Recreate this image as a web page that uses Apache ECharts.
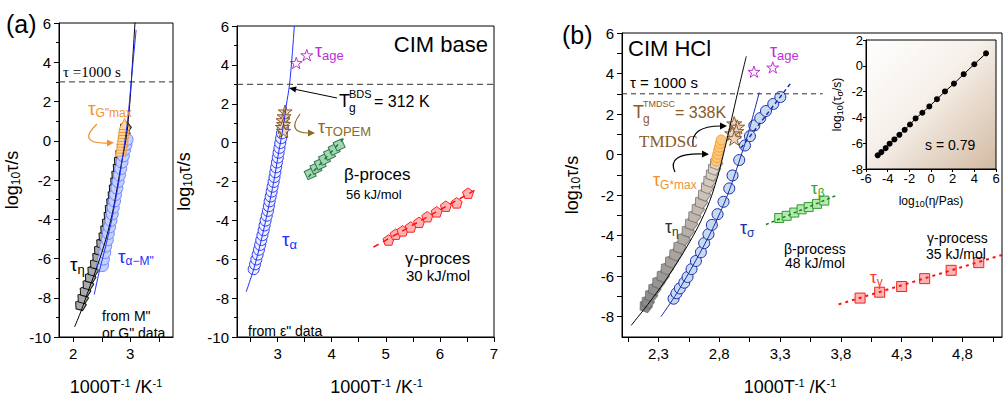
<!DOCTYPE html>
<html><head><meta charset="utf-8">
<script src="https://cdn.jsdelivr.net/npm/echarts@6.0.0/dist/echarts.min.js"></script>
<style>html,body{margin:0;padding:0;background:#fff}#c{width:1004px;height:403px}</style>
</head><body><div id="c"></div>
<script>
// ---------- DATA ----------
// Panel (a) left: from M'' or G'' data
const p1EtaX = [2.13,2.17,2.21,2.26,2.30,2.345,2.39,2.43,2.46,2.50,2.54,2.57,2.60,2.63,2.65,2.675,2.70,2.72,2.745,2.765,2.79,2.81,2.835,2.86,2.88,2.90,2.92];
const p1EtaY = [-8.35,-8.0,-7.65,-7.3,-6.95,-6.6,-6.25,-5.9,-5.55,-5.2,-4.85,-4.5,-4.15,-3.8,-3.45,-3.1,-2.75,-2.4,-2.05,-1.7,-1.35,-1.0,-0.65,-0.3,0.05,0.4,0.7];
const p1AlphaX = [2.512,2.529,2.552,2.569,2.598,2.615,2.638,2.661,2.684,2.701,2.724,2.741,2.764,2.787,2.810,2.833,2.856,2.879,2.902,2.925,2.943];
const p1AlphaY = [-6.36,-6.03,-5.70,-5.37,-5.05,-4.72,-4.39,-4.06,-3.73,-3.40,-3.07,-2.74,-2.41,-2.08,-1.75,-1.42,-1.09,-0.77,-0.44,-0.19,0.06];
const p1GmaxX = [2.83,2.84,2.85,2.86,2.865,2.87,2.88,2.885,2.89,2.90];
const p1GmaxY = [-0.5,-0.35,-0.2,-0.05,0.1,0.25,0.4,0.55,0.7,0.85];
const p1EtaFitX = [2.023,2.138,2.282,2.425,2.569,2.684,2.77,2.839,2.914,2.954,3.0,3.04,3.086];
const p1EtaFitY = [-9.49,-8.67,-7.51,-6.36,-5.05,-3.73,-2.41,-1.26,-0.11,0.72,2.2,4.01,6.15];
const p1AlphaFitX = [2.368,2.454,2.569,2.684,2.799,2.885,2.96,3.017,3.103];
const p1AlphaFitY = [-7.84,-6.69,-5.37,-3.89,-2.08,-0.43,1.21,3.02,5.65];

// Panel (a) right: CIM base, from eps'' data
const p2AlphaX = [2.558,2.583,2.607,2.632,2.656,2.678,2.699,2.72,2.742,2.76,2.779,2.80,2.822,2.838,2.853,2.872,2.890,2.908,2.927,2.943,2.958,2.973,2.988,3.004,3.019,3.035,3.050,3.066,3.081,3.099];
const p2AlphaY = [-6.51,-6.26,-6.01,-5.76,-5.51,-5.26,-5.01,-4.76,-4.51,-4.26,-4.01,-3.76,-3.51,-3.27,-3.02,-2.77,-2.52,-2.27,-2.02,-1.77,-1.52,-1.27,-1.02,-0.77,-0.52,-0.27,-0.02,0.23,0.48,0.73];
const p2AlphaFitX = [2.42,2.56,2.70,2.82,2.93,3.02,3.10,3.16,3.22,3.27,3.31];
const p2AlphaFitY = [-7.67,-6.5,-5.0,-3.5,-2.0,-0.5,0.75,1.9,2.97,4.5,6.0];
const p2TopemX = [3.14,3.12,3.10,3.11,3.09,3.11];
const p2TopemY = [1.6,1.35,1.15,0.95,0.8,0.6];
const p2AgeX = [3.345,3.54];
const p2AgeY = [4.1,4.5];
const p2BetaX = [3.603,3.708,3.788,3.867,3.96,4.046,4.138];
const p2BetaY = [-1.60,-1.32,-1.10,-0.85,-0.60,-0.35,-0.12];
const p2BetaFitX = [3.57,4.25];
const p2BetaFitY = [-1.77,0.31];
const p2GammaX = [5.05,5.184,5.31,5.46,5.614,5.767,5.94,6.11,6.31,6.52];
const p2GammaY = [-5.01,-4.71,-4.54,-4.34,-4.10,-3.81,-3.56,-3.27,-3.10,-2.60];
const p2GammaFitX = [4.77,6.71];
const p2GammaFitY = [-5.38,-2.35];

// Panel (b): CIM HCl
const p3EtaX = [2.197,2.213,2.24,2.267,2.30,2.336,2.37,2.405,2.44,2.473,2.508,2.542,2.569,2.596,2.624,2.651,2.676,2.701,2.72,2.74,2.758,2.775];
const p3EtaY = [-7.45,-7.24,-6.92,-6.60,-6.28,-5.96,-5.60,-5.25,-4.89,-4.53,-4.13,-3.74,-3.38,-3.02,-2.66,-2.31,-1.95,-1.59,-1.27,-0.95,-0.67,-0.40];
const p3EtaFitX = [2.075,2.213,2.349,2.487,2.624,2.72,2.789,2.843,2.898,2.953,3.022];
const p3EtaFitY = [-8.43,-7.39,-6.28,-5.01,-3.58,-2.31,-1.03,0.24,1.67,3.11,4.85];
const p3SigmaX = [2.424,2.448,2.476,2.512,2.539,2.572,2.608,2.649,2.676,2.711,2.739,2.786,2.835,2.882,2.909,2.964,3.011,3.052,3.088,3.137,3.184,3.244,3.302];
const p3SigmaY = [-7.11,-6.84,-6.60,-6.32,-6.04,-5.65,-5.25,-4.82,-4.37,-3.93,-3.47,-2.94,-2.33,-1.67,-1.03,-0.27,0.45,0.91,1.44,1.80,2.15,2.50,2.84];
const p3SigmaFitX = [2.32,2.45,2.6,2.75,2.868,2.96,3.04,3.129];
const p3SigmaFitY = [-8.0,-6.85,-5.3,-3.6,-1.99,-0.4,1.1,3.07];
const p3SigmaFit2X = [2.978,3.395];
const p3SigmaFit2Y = [0.32,3.58];
const p3GmaxX = [2.775,2.781,2.788,2.795,2.802,2.809,2.816];
const p3GmaxY = [-0.32,-0.15,0.02,0.2,0.37,0.55,0.72];
const p3TmdscX = [2.923,2.948,2.94,2.906,2.923];
const p3TmdscY = [1.53,1.37,1.15,1.04,0.80];
const p3AgeX = [3.085,3.24];
const p3AgeY = [4.09,4.30];
const p3BetaX = [3.293,3.354,3.417,3.477,3.535,3.604,3.664];
const p3BetaY = [-3.13,-3.02,-2.86,-2.70,-2.59,-2.43,-2.27];
const p3BetaFitX = [3.184,3.773];
const p3BetaFitY = [-3.45,-1.99];
const p3GammaX = [3.958,4.119,4.30,4.489,4.707,4.934];
const p3GammaY = [-7.08,-6.79,-6.51,-6.12,-5.71,-5.33];
const p3GammaFitX = [3.781,5.137];
const p3GammaFitY = [-7.39,-4.93];

// Inset: log10(tau_sigma) vs log10(eta)
const insetX = [-4.92,-4.58,-4.18,-3.82,-3.38,-2.92,-2.43,-1.94,-1.42,-0.80,-0.15,0.55,1.29,2.12,3.02,4.0,5.08];
const insetY = [-6.94,-6.69,-6.38,-6.04,-5.71,-5.35,-4.96,-4.55,-4.08,-3.64,-3.15,-2.59,-1.99,-1.38,-0.65,0.12,0.97];

const tauRef = 3; // tau = 1000 s
// Tick values
const p1XTicks = [2,2.5,3,3.5];
const p1XLabels = [2,3];
const p2XTicks = [2.5,3,3.5,4,4.5,5,5.5,6,6.5,7];
const p2XLabels = [3,4,5,6,7];
const p3XTicks = [2.05,2.3,2.55,2.8,3.05,3.3,3.55,3.8,4.05,4.3,4.55,4.8,5.05];
const p3XLabels = [2.3,2.8,3.3,3.8,4.3,4.8];
const p3YTicks = [-8,-7,-6,-5,-4,-3,-2,-1,0,1,2,3,4,5,6];
const p3YLabels = [-8,-6,-4,-2,0,2,4,6];
const insetXLabels = [-6,-4,-2,0,2,4,6];
const insetYLabels = [-8,-6,-4,-2,0,2];

// ---------- CHART ----------
const SANS = 'Liberation Sans, Arial, sans-serif';
const SERIF = 'Liberation Serif, Times New Roman, serif';
const zip = (xs, ys) => xs.map((x, i) => [x, ys[i]]);
const PENT = 'path://M50,0 L97.55,34.55 L79.39,90.45 L20.61,90.45 L2.45,34.55 Z';
const STAR = 'path://M50,0 L61.8,35.1 L98.6,35.1 L68.9,56.8 L80.2,91.9 L50,70.2 L19.8,91.9 L31.1,56.8 L1.4,35.1 L38.2,35.1 Z';

const chart = echarts.init(document.getElementById('c'), null, {renderer: 'svg'});

const richSS = {
  p: {fontSize: 11, fontFamily: SANS, lineHeight: 13, padding: [0, 0, 9, 0], color: '#000'},
  s: {fontSize: 12, fontFamily: SANS, lineHeight: 14, padding: [8, 0, 0, 0], color: '#000'}
};
const xName = '1000T{p|-1} /K{p|-1}';
const yName = 'log{s|10}τ/s';

function xAx(grid, min, max, ticks, labels, pad, fmt) {
  return {
    gridIndex: grid, type: 'value', min: min, max: max,
    axisLine: {show: true, onZero: false, lineStyle: {color: '#000', width: 1}},
    axisTick: {show: true, customValues: ticks, length: 5, lineStyle: {color: '#000'}},
    axisLabel: {customValues: labels, color: '#000', fontFamily: SANS, fontSize: 15, margin: 9, formatter: fmt,
      showMinLabel: true, showMaxLabel: true},
    splitLine: {show: false},
    name: xName, nameLocation: 'middle', nameGap: 39,
    nameTextStyle: {color: '#000', fontFamily: SANS, fontSize: 18, lineHeight: 22, padding: pad, rich: richSS}
  };
}
function yAx(grid, min, max, gap, extra) {
  const a = {
    gridIndex: grid, type: 'value', min: min, max: max, interval: 2,
    axisLine: {show: true, onZero: false, lineStyle: {color: '#000', width: 1}},
    axisTick: {show: true, length: 5, lineStyle: {color: '#000'}},
    minorTick: {show: true, splitNumber: 2, length: 3, lineStyle: {color: '#000'}},
    axisLabel: {color: '#000', fontFamily: SANS, fontSize: 15, margin: 8, showMinLabel: true, showMaxLabel: true},
    splitLine: {show: false}, minorSplitLine: {show: false},
    name: yName, nameLocation: 'middle', nameGap: gap,
    nameTextStyle: {color: '#000', fontFamily: SANS, fontSize: 18, lineHeight: 22, rich: richSS}
  };
  return Object.assign(a, extra || {});
}

function scat(ax, data, symbol, size, fill, stroke, extra) {
  return Object.assign({
    type: 'scatter', xAxisIndex: ax, yAxisIndex: ax, data: data, symbol: symbol,
    symbolSize: size, symbolKeepAspect: true, silent: true,
    itemStyle: {color: fill, borderColor: stroke, borderWidth: 1, opacity: 1}
  }, extra || {});
}
function ln(ax, data, color, width, type, smooth) {
  return {
    type: 'line', xAxisIndex: ax, yAxisIndex: ax, data: data, showSymbol: false,
    symbol: 'none', smooth: smooth || false, silent: true,
    lineStyle: {color: color, width: width, type: type || 'solid'}
  };
}

function txt(x, y, text, size, color, extra) {
  return {type: 'text', x: x, y: y, z: 100, silent: true, style: Object.assign({
    text: text, fontSize: size, fontFamily: SANS, fill: color || '#000',
    align: 'left', verticalAlign: 'middle', textAlign: 'left', textVerticalAlign: 'middle'
  }, extra || {})};
}
function tauLbl(x, y, sub, color, big, small, drop) {
  big = big || 19; small = small || 13; drop = drop || 6;
  const lhB = big + 6, lhS = small + 2;
  const pad = Math.max(0, lhB / 2 + drop - lhS / 2);
  return {type: 'text', x: x, y: y, z: 100, silent: true, style: {
    text: '{t|τ}{s|' + sub + '}', fill: color, align: 'left', verticalAlign: 'middle',
    textAlign: 'left', textVerticalAlign: 'middle',
    rich: {
      t: {fontSize: big, fontFamily: SANS, fill: color, lineHeight: lhB},
      s: {fontSize: small, fontFamily: SANS, fill: color, lineHeight: lhS, padding: [pad, 0, 0, 0]}
    }}};
}
function curveArrow(x1, y1, cx, cy, x2, y2, color) {
  const ang = Math.atan2(y2 - cy, x2 - cx);
  const L = 7, W = 3.5;
  const tx = x2 + Math.cos(ang) * 6, ty = y2 + Math.sin(ang) * 6;
  const bx = tx - Math.cos(ang) * L, by = ty - Math.sin(ang) * L;
  const px = -Math.sin(ang) * W, py = Math.cos(ang) * W;
  return [
    {type: 'bezierCurve', z: 100, silent: true, shape: {x1: x1, y1: y1, cpx1: cx, cpy1: cy, x2: x2, y2: y2},
      style: {stroke: color, lineWidth: 1.2, fill: null}},
    {type: 'polygon', z: 100, silent: true, shape: {points: [[tx, ty], [bx + px, by + py], [bx - px, by - py]]},
      style: {fill: color}}
  ];
}

const BLUE = '#2030ff', ORANGE = '#f39030', BROWN = '#8b5a2b', OLIVE = '#8b6a2a', MAG = '#c030d8';

function grayMix(params) {
  const t = params.dataIndex / (p3EtaX.length - 1);
  const a = [135, 135, 135], b = [226, 212, 198];
  const c = a.map((v, i) => Math.round(v + (b[i] - v) * t));
  return 'rgb(' + c.join(',') + ')';
}

const insetRich = {s: {fontSize: 9, fontFamily: SANS, lineHeight: 11, padding: [6, 0, 0, 0], color: '#000'}};

const graphics = [
  // panel (a) left
  txt(6, 24, '(a)', 25, '#000'),
  txt(63, 72, 'τ =1000 s', 15, '#000', {fontFamily: SERIF}),
  tauLbl(88, 108, 'G"max', ORANGE, 19, 12, 5),
  ...curveArrow(97, 124, 76, 144, 108, 143, ORANGE),
  tauLbl(70, 264, 'η', '#000', 19, 13, 6),
  tauLbl(118, 256, 'α−M"', BLUE, 19, 12, 5),
  txt(102, 316, 'from M"', 14, '#000'),
  txt(102, 333, 'or G" data', 14, '#000'),
  // panel (a) right
  txt(488, 44, 'CIM base', 22, '#000', {align: 'right', textAlign: 'right'}),
  tauLbl(315, 51, 'age', MAG, 18, 13, 4),
  txt(339, 101, 'T', 18, '#000'),
  txt(349, 94, 'BDS', 11, '#000'),
  txt(349, 108, 'g', 12, '#000'),
  txt(374, 101, '= 312 K', 16, '#000'),
  {type: 'line', z: 100, silent: true, shape: {x1: 337, y1: 98, x2: 296, y2: 89.5}, style: {stroke: '#000', lineWidth: 1}},
  {type: 'polygon', z: 100, silent: true, shape: {points: [[289, 88], [296.6, 86.5], [295.4, 92.4]]}, style: {fill: '#000'}},
  tauLbl(318, 127, 'TOPEM', OLIVE, 18, 13, 5),
  ...curveArrow(300, 114, 286, 133, 309, 133, OLIVE),
  txt(344, 174, 'β-proces', 17, '#000'),
  txt(346, 194, '56 kJ/mol', 13, '#000'),
  txt(405, 258, 'γ-proces', 17, '#000'),
  txt(406, 275, '30 kJ/mol', 15, '#000'),
  tauLbl(282, 239, 'α', BLUE, 19, 13, 5),
  txt(248, 331, 'from ε" data', 14, '#000'),
  // panel (b)
  txt(562, 35, '(b)', 25, '#000'),
  txt(628, 48, 'CIM HCl', 22, '#000'),
  txt(630, 82, 'τ = 1000 s', 15, '#000'),
  txt(633, 112, 'T', 18, BROWN),
  txt(643, 104, 'TMDSC', 9, BROWN),
  txt(643, 119, 'g', 12, BROWN),
  txt(675, 112, '= 338K', 16, BROWN),
  txt(639, 141, 'TMDSC', 17, BROWN, {fontFamily: SERIF}),
  ...curveArrow(693, 146, 690, 126, 721, 126, '#000'),
  tauLbl(653, 180, 'G*max', ORANGE, 18, 12, 5),
  ...curveArrow(675, 172, 666, 153, 703, 154, '#000'),
  tauLbl(665, 227, 'η', '#333', 18, 12, 5),
  tauLbl(740, 228, 'σ', '#2030b0', 18, 12, 4),
  tauLbl(770, 51, 'age', MAG, 18, 13, 4),
  txt(784, 249, 'β-process', 14, '#000'),
  txt(785, 263, '48 kJ/mol', 14, '#000'),
  txt(927, 238, 'γ-process', 14, '#000'),
  txt(926, 254, '35 kJ/mol', 14, '#000'),
  tauLbl(811, 188, 'β', '#30a030', 17, 12, 5),
  tauLbl(870, 277, 'γ', '#ff3030', 17, 12, 5),
  txt(925, 145, 's = 0.79', 14, '#000')
];

const option = {
  backgroundColor: '#fff',
  animation: false,
  grid: [
    {left: 58, top: 23, width: 115, height: 324, show: true, borderColor: '#000', borderWidth: 1},
    {left: 237, top: 26, width: 257, height: 321, show: true, borderColor: '#000', borderWidth: 1},
    {left: 622, top: 33, width: 380, height: 314, show: true, borderColor: '#000', borderWidth: 1},
    {left: 866, top: 40, width: 130, height: 129, show: true, borderColor: '#000', borderWidth: 1,
      backgroundColor: new echarts.graphic.LinearGradient(0, 0, 1, 1, [
        {offset: 0, color: '#ffffff'}, {offset: 0.45, color: '#f6f0ea'}, {offset: 1, color: '#d2baa2'}])}
  ],
  xAxis: [
    xAx(0, 1.75, 3.75, p1XTicks, p1XLabels, [0, 0, 0, 0]),
    xAx(1, 2.25, 7, p2XTicks, p2XLabels, [0, 0, 0, 22]),
    xAx(2, 2.0, 5.125, p3XTicks, p3XLabels, [0, 44, 0, 0], v => v.toFixed(1).replace('.', ',')),
    {gridIndex: 3, type: 'value', min: -6, max: 6,
      axisLine: {show: true, onZero: false, lineStyle: {color: '#000'}},
      axisTick: {length: 3, customValues: insetXLabels, lineStyle: {color: '#000'}},
      axisLabel: {customValues: insetXLabels, color: '#000', fontFamily: SANS, fontSize: 13, margin: 3,
        showMinLabel: true, showMaxLabel: true},
      splitLine: {show: false},
      name: 'log{s|10}(η/Pas)', nameLocation: 'middle', nameGap: 24,
      nameTextStyle: {color: '#000', fontFamily: SANS, fontSize: 12, lineHeight: 15, rich: insetRich}}
  ],
  yAxis: [
    yAx(0, -10, 6, 36),
    yAx(1, -10, 6, 42),
    yAx(2, -9, 6, 39, {interval: 1, minorTick: {show: false},
      axisTick: {show: true, customValues: p3YTicks, length: 5, lineStyle: {color: '#000'}},
      axisLabel: {customValues: p3YLabels, color: '#000', fontFamily: SANS, fontSize: 15, margin: 8,
        showMinLabel: true, showMaxLabel: true}}),
    {gridIndex: 3, type: 'value', min: -8, max: 2,
      axisLine: {show: true, onZero: false, lineStyle: {color: '#000'}},
      axisTick: {length: 3, customValues: insetYLabels, lineStyle: {color: '#000'}},
      axisLabel: {customValues: insetYLabels, color: '#000', fontFamily: SANS, fontSize: 13, margin: 3,
        showMinLabel: true, showMaxLabel: true},
      splitLine: {show: false},
      name: 'log{s|10}(τ{s|σ}/s)', nameLocation: 'middle', nameGap: 22,
      nameTextStyle: {color: '#000', fontFamily: SANS, fontSize: 12, lineHeight: 15, rich: insetRich}}
  ],
  series: [
    // ---- panel 1 ----
    ln(0, [[1.75, tauRef], [3.75, tauRef]], '#333', 1, [6, 4]),
    scat(0, zip(p1EtaX, p1EtaY), PENT, 11, '#a9a9a9', '#111', {symbolRotate: -15}),
    ln(0, zip(p1EtaFitX, p1EtaFitY), '#000', 1, 'solid', 0.3),
    scat(0, zip(p1AlphaX, p1AlphaY), 'circle', 12, '#c4d0ff', '#6f84ff'),
    scat(0, zip(p1GmaxX, p1GmaxY), 'triangle', 11, '#fdd9a0', '#f09a3a'),
    ln(0, zip(p1AlphaFitX, p1AlphaFitY), BLUE, 1, 'solid', 0.3),
    // ---- panel 2 ----
    ln(1, [[2.25, tauRef], [7, tauRef]], '#333', 1, [6, 4]),
    scat(1, zip(p2AlphaX, p2AlphaY), 'circle', 11, '#eef0ff', '#2a3cf0'),
    ln(1, zip(p2AlphaFitX, p2AlphaFitY), BLUE, 1, 'solid', 0.3),
    scat(1, zip(p2TopemX, p2TopemY), STAR, 14, '#ead7c2', '#8b5a2b'),
    scat(1, zip(p2AgeX, p2AgeY), STAR, 12, '#ffffff', MAG),
    scat(1, zip(p2BetaX, p2BetaY), 'rect', 9, '#a2d6b6', '#2e7a4a', {symbolRotate: 25}),
    ln(1, zip(p2BetaFitX, p2BetaFitY), '#1e7a2a', 1.5, [4, 4]),
    scat(1, zip(p2GammaX, p2GammaY), PENT, 11, '#ffb2b2', '#ff2020'),
    ln(1, zip(p2GammaFitX, p2GammaFitY), '#ff1010', 1.5, [6, 5]),
    // ---- panel 3 ----
    ln(2, [[2.0, tauRef], [3.65, tauRef]], '#333', 1, [5, 4]),
    scat(2, zip(p3EtaX, p3EtaY), PENT, 13, grayMix, 'rgba(100,100,100,0.7)', {symbolRotate: -20}),
    ln(2, zip(p3EtaFitX, p3EtaFitY), '#000', 1, 'solid', 0.3),
    scat(2, zip(p3SigmaX, p3SigmaY), 'circle', 11, '#c6dbf2', '#1a2ca8'),
    ln(2, zip(p3SigmaFitX, p3SigmaFitY), '#1a2ca8', 1, 'solid', 0.3),
    ln(2, zip(p3SigmaFit2X, p3SigmaFit2Y), '#1a2ca8', 1.5, [4, 3]),
    scat(2, zip(p3GmaxX, p3GmaxY), 'circle', 10, '#fcc880', '#f5a030'),
    scat(2, zip(p3TmdscX, p3TmdscY), STAR, 15, '#ead7c2', '#8b5a2b'),
    scat(2, zip(p3AgeX, p3AgeY), STAR, 12, '#ffffff', MAG),
    ln(2, zip(p3BetaFitX, p3BetaFitY), '#1e7a1e', 1.5, [3, 3]),
    scat(2, zip(p3BetaX, p3BetaY), 'rect', 9, '#b5eab0', '#2f9a2f'),
    ln(2, zip(p3GammaFitX, p3GammaFitY), '#ff1010', 2, [3, 4]),
    scat(2, zip(p3GammaX, p3GammaY), 'rect', 10, '#ffb4b4', '#f02020'),
    // ---- inset ----
    {type: 'line', xAxisIndex: 3, yAxisIndex: 3, data: zip(insetX, insetY), symbol: 'circle',
      symbolSize: 6, silent: true, lineStyle: {color: '#000', width: 1}, itemStyle: {color: '#000'}}
  ],
  graphic: graphics
};
chart.setOption(option);
</script>
</body></html>
